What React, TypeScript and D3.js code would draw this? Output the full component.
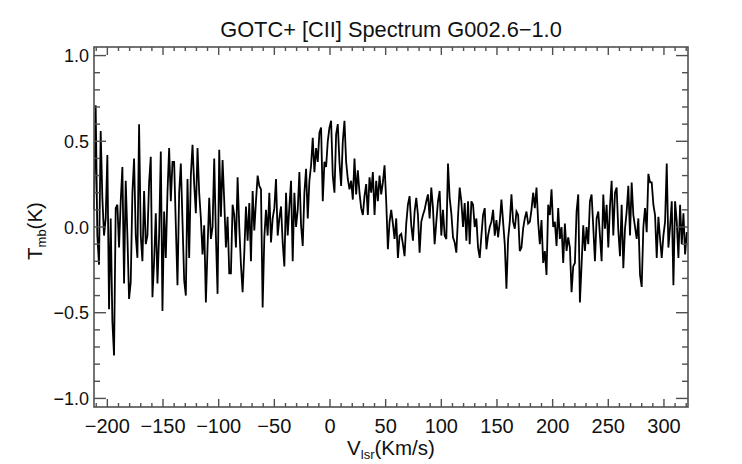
import React from 'react';
import * as d3 from 'd3';

// Spectrum channels: start velocity and channel width (km/s)
const VEL_START = -212;
const VEL_STEP = 1.5;

// Main-beam temperature (K), left to right
const tmbPart1 = [
  0.1, 0.71, -0.05, -0.22, 0.56, 0.17, -0.05, 0.05, 0.42, -0.48,
  0.05, -0.55, -0.75, 0.11, 0.13, -0.12, 0.15, 0.35, -0.33, 0.27,
  -0.05, -0.42, -0.32, 0.2, 0.4, -0.05, -0.18, 0.6, -0.05, -0.2,
  0.21, -0.1, -0.05, 0.26, 0.41, -0.41, -0.2, 0.08, -0.33, -0.05,
  0.44, -0.49, 0.09, -0.18, 0.2, 0.46, 0.15, 0.38, 0.38, 0.01,
  -0.34, 0.2, 0.37, 0.03, -0.31, -0.4, 0.28, -0.18, 0.3, 0.48,
  0.25,
];
const tmbPart2 = [
  0.08, 0.46, 0.2, 0.05, -0.16, 0.01, -0.44, -0.12, 0.17, -0.07,
  0.0, 0.4, -0.05, -0.39, 0.45, 0.06, 0.39, 0.15, -0.12, 0.06,
  -0.27, -0.27, 0.13, 0.07, -0.12, 0.29, 0.0, -0.22, -0.38, -0.15,
  0.12, -0.08, 0.14, -0.2, 0.21, -0.02, 0.15, 0.3, 0.24, 0.22,
  -0.47, -0.06, 0.1, -0.05, 0.2, -0.09, 0.05, 0.11, 0.28, -0.05,
  0.05, 0.12, -0.09, -0.23, 0.2, -0.05, 0.12, 0.27, -0.2, 0.2,
];
const tmbPart3 = [
  0.0, 0.1, 0.32, 0.01, -0.11, 0.2, 0.34, 0.05, 0.27, 0.36,
  0.52, 0.32, 0.46, 0.38, 0.55, 0.58, 0.15, 0.38, 0.35, 0.5,
  0.58, 0.62, 0.3, 0.2, 0.54, 0.6, 0.38, 0.24, 0.5, 0.62,
  0.38, 0.28, 0.22, 0.27, 0.16, 0.4, 0.19, 0.33, 0.2, 0.11,
  0.07, 0.18, 0.25, 0.07, 0.29, 0.2, 0.32, 0.07, 0.27, 0.15,
  0.3, 0.19, 0.26, 0.36, 0.15, -0.13, 0.03, 0.1, 0.02, -0.07,
];
const tmbPart4 = [
  0.05, -0.18, -0.05, -0.04, -0.1, -0.17, 0.02, 0.13, 0.18, 0.01,
  -0.08, 0.09, 0.17, 0.07, -0.15, 0.03, 0.07, 0.1, 0.15, 0.19,
  0.05, 0.23, 0.11, -0.1, 0.03, 0.15, 0.21, -0.05, 0.1, -0.05,
  -0.07, 0.37, 0.17, 0.08, -0.06, -0.09, -0.15, 0.06, 0.23, 0.15,
  0.0, 0.14, -0.08, 0.15, -0.1, 0.15, 0.13, 0.0, 0.05, -0.12,
  -0.18, -0.05, 0.07, 0.11, -0.13, -0.05, 0.0, 0.03, 0.1, -0.05,
];
const tmbPart5 = [
  0.04, -0.06, 0.03, 0.16, 0.03, -0.1, -0.36, -0.07, 0.03, 0.19,
  0.03, -0.01, 0.09, 0.07, -0.14, -0.12, -0.01, 0.05, 0.09, 0.02,
  0.03, 0.1, 0.2, 0.11, 0.23, 0.03, -0.1, 0.04, -0.21, -0.14,
  -0.28, 0.13, 0.07, 0.22, 0.0, 0.03, -0.11, 0.11, -0.07, 0.0,
  -0.21, 0.02, -0.14, -0.06, -0.12, -0.38, -0.23, -0.21, 0.09, 0.19,
  -0.44, -0.22, 0.01, -0.14, 0.0, -0.1, 0.15, 0.19, 0.0, -0.2,
];
const tmbPart6 = [
  0.05, 0.09, -0.05, -0.2, 0.19, -0.01, 0.13, -0.12, 0.12, 0.27,
  -0.05, 0.2, 0.23, -0.02, -0.17, 0.13, -0.24, -0.01, 0.09, 0.24,
  -0.05, 0.26, 0.07, 0.0, -0.07, 0.05, -0.28, -0.35, 0.0, 0.11,
  -0.03, 0.31, 0.26, 0.26, 0.13, 0.07, -0.18, 0.06, -0.07, -0.18,
  -0.05, 0.03, 0.37, -0.12, 0.0, 0.15, -0.34, 0.15, 0.03, -0.18,
  0.13, -0.1, 0.08, -0.16, -0.03,
];

const tmb = [...tmbPart1, ...tmbPart2, ...tmbPart3, ...tmbPart4, ...tmbPart5, ...tmbPart6];
const velocity = tmb.map((_, i) => VEL_START + i * VEL_STEP);

const xDomain: [number, number] = [-212, 321.6];
const yDomain: [number, number] = [-1.05, 1.05];
const xMajorTicks = [-200, -150, -100, -50, 0, 50, 100, 150, 200, 250, 300];
const yMajorTicks = [-1.0, -0.5, 0.0, 0.5, 1.0];

const TITLE = 'GOTC+ [CII] Spectrum G002.6\u22121.0';

const W = 742;
const H = 464;
const L = 94;
const R = 688;
const T = 47;
const B = 407;

const FONT = '"Liberation Sans", Arial, Helvetica, sans-serif';
const AXIS_COLOR = '#505050';

const fmtX = (v: number) => (v < 0 ? '\u2212' + Math.abs(v) : String(v));
const fmtY = (v: number) => {
  const s = Math.abs(v).toFixed(1);
  return v < 0 ? '\u2212' + s : s;
};

export default function App() {
  const x = d3.scaleLinear().domain(xDomain).range([L, R]);
  const y = d3.scaleLinear().domain(yDomain).range([B, T]);

  const line = d3
    .line<number>()
    .x((_, i) => x(velocity[i]))
    .y((d) => y(d));

  const xMinor = d3.range(-210, 321, 10).filter((v) => v % 50 !== 0);
  const yMinor = d3
    .range(-10, 11, 1)
    .filter((v) => v % 5 !== 0)
    .map((v) => v / 10);

  const xMajLen = 8;
  const xMinLen = 4;
  const yMajLen = 12;
  const yMinLen = 6;

  return (
    <svg
      width={W}
      height={H}
      style={{ position: 'absolute', left: 0, top: 0, display: 'block', background: '#fff' }}
      fontFamily={FONT}
    >
      <rect x={0} y={0} width={W} height={H} fill="#fff" />
      <text x={391} y={37} textAnchor="middle" fontSize={21.8} fill="#111">
        {TITLE}
      </text>

      {/* data */}
      <path d={line(tmb) || ''} fill="none" stroke="#000" strokeWidth={1.8} strokeLinejoin="miter" />

      {/* ticks */}
      <g stroke={AXIS_COLOR} strokeWidth={1.4}>
        {xMajorTicks.map((v) => (
          <g key={'xm' + v}>
            <line x1={x(v)} x2={x(v)} y1={B} y2={B - xMajLen} />
            <line x1={x(v)} x2={x(v)} y1={T} y2={T + xMajLen} />
          </g>
        ))}
        {xMinor.map((v) => (
          <g key={'xn' + v}>
            <line x1={x(v)} x2={x(v)} y1={B} y2={B - xMinLen} />
            <line x1={x(v)} x2={x(v)} y1={T} y2={T + xMinLen} />
          </g>
        ))}
        {yMajorTicks.map((v) => (
          <g key={'ym' + v}>
            <line x1={L} x2={L + yMajLen} y1={y(v)} y2={y(v)} />
            <line x1={R} x2={R - yMajLen} y1={y(v)} y2={y(v)} />
          </g>
        ))}
        {yMinor.map((v) => (
          <g key={'yn' + v}>
            <line x1={L} x2={L + yMinLen} y1={y(v)} y2={y(v)} />
            <line x1={R} x2={R - yMinLen} y1={y(v)} y2={y(v)} />
          </g>
        ))}
      </g>

      {/* frame */}
      <rect x={L} y={T} width={R - L} height={B - T} fill="none" stroke={AXIS_COLOR} strokeWidth={1.6} />

      {/* tick labels */}
      {xMajorTicks.map((v) => (
        <text key={'xl' + v} x={x(v)} y={433} textAnchor="middle" fontSize={20} fill="#111">
          {fmtX(v)}
        </text>
      ))}
      {yMajorTicks.map((v) => (
        <text key={'yl' + v} x={89} y={y(v) + 6.5} textAnchor="end" fontSize={18} fill="#111">
          {fmtY(v)}
        </text>
      ))}

      {/* axis titles */}
      <text x={391} y={455} textAnchor="middle" fontSize={20.5} fill="#111">
        V<tspan fontSize={13} dy={4}>lsr</tspan>
        <tspan dy={-4}>(Km/s)</tspan>
      </text>
      <text transform="translate(42,231) rotate(-90)" textAnchor="middle" fontSize={20.5} fill="#111">
        T<tspan fontSize={13} dy={4}>mb</tspan>
        <tspan dy={-4}>(K)</tspan>
      </text>
    </svg>
  );
}
